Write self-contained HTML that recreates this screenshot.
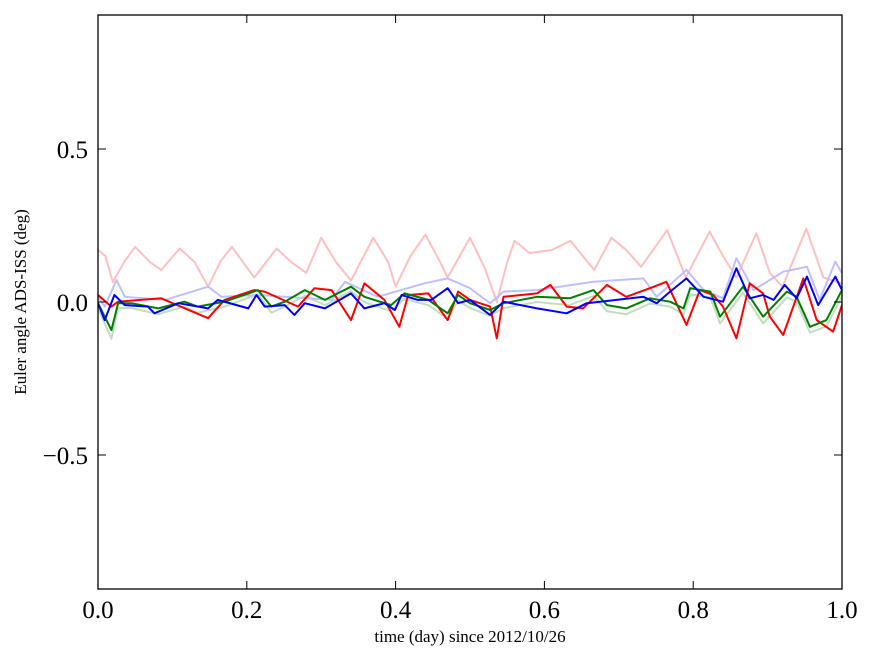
<!DOCTYPE html>
<html><head><meta charset="utf-8"><style>
html,body{margin:0;padding:0;background:#fff;}
svg{display:block;font-family:"Liberation Serif",serif;}
</style></head><body>
<svg id="chart" width="875" height="662" viewBox="0 0 875 662"></svg>
<script>
const xTicks=[0,0.2,0.4,0.6,0.8,1.0];
const xTickLabels=["0.0","0.2","0.4","0.6","0.8","1.0"];
const yTicks=[0.5,0,-0.5];
const yTickLabels=["0.5","0.0","\u22120.5"];
const pinkX=[0,0.01,0.02,0.035,0.05,0.07,0.085,0.11,0.13,0.148,0.165,0.18,0.195,0.21,0.24,0.26,0.28,0.30,0.32,0.34,0.37,0.39,0.40,0.42,0.44,0.46,0.47,0.50,0.52,0.536,0.55,0.56,0.58,0.61,0.635,0.667,0.69,0.71,0.73,0.765,0.79,0.822,0.84,0.858,0.885,0.903,0.92,0.952,0.975,1.0];
const pinkY=[0.17,0.15,0.065,0.13,0.18,0.13,0.105,0.175,0.13,0.05,0.135,0.18,0.13,0.08,0.175,0.13,0.095,0.21,0.13,0.07,0.21,0.13,0.05,0.15,0.22,0.13,0.08,0.21,0.11,0.0,0.13,0.2,0.16,0.17,0.2,0.105,0.21,0.17,0.115,0.235,0.08,0.23,0.15,0.08,0.225,0.095,0.05,0.24,0.08,0.06];
const redX=[0,0.018,0.027,0.085,0.148,0.17,0.21,0.224,0.269,0.291,0.314,0.34,0.358,0.385,0.405,0.417,0.444,0.47,0.484,0.5,0.527,0.536,0.545,0.59,0.608,0.63,0.652,0.684,0.71,0.742,0.764,0.791,0.809,0.827,0.84,0.858,0.876,0.894,0.903,0.921,0.948,0.966,0.988,1.0];
const redY=[0.023,-0.015,0.001,0.012,-0.053,0.007,0.039,0.034,-0.015,0.045,0.039,-0.059,0.061,0.007,-0.081,0.023,0.028,-0.059,0.034,0.007,-0.015,-0.119,0.017,0.028,0.056,-0.015,-0.021,0.056,0.017,0.045,0.066,-0.075,0.039,0.023,-0.015,-0.119,0.061,0.028,-0.048,-0.108,0.077,-0.059,-0.097,-0.01];
const greenX=[0,0.018,0.027,0.045,0.081,0.116,0.134,0.17,0.215,0.233,0.251,0.278,0.305,0.34,0.358,0.394,0.412,0.444,0.47,0.484,0.5,0.527,0.545,0.59,0.634,0.666,0.684,0.71,0.742,0.769,0.787,0.796,0.823,0.836,0.867,0.894,0.926,0.939,0.957,0.979,1.0];
const greenY=[-0.004,-0.092,-0.004,-0.004,-0.021,0.001,-0.015,0.001,0.039,-0.015,0.001,0.039,0.007,0.05,0.017,-0.01,0.028,0.007,-0.037,0.023,-0.004,-0.026,-0.004,0.017,0.012,0.039,-0.01,-0.021,0.012,0.001,-0.021,0.045,0.034,-0.048,0.05,-0.048,0.034,0.017,-0.081,-0.059,0.039];
const lgreenY=[-0.02,-0.12,-0.02,-0.02,-0.04,-0.015,-0.035,-0.015,0.025,-0.035,-0.015,0.02,-0.01,0.035,0.0,-0.03,0.01,-0.01,-0.055,0.005,-0.02,-0.045,-0.02,0.0,-0.01,0.02,-0.03,-0.04,-0.005,-0.015,-0.04,0.025,0.015,-0.07,0.03,-0.07,0.015,0.0,-0.1,-0.08,0.02];
const blueX=[0,0.009,0.022,0.036,0.067,0.076,0.108,0.148,0.161,0.202,0.213,0.224,0.251,0.264,0.278,0.305,0.34,0.358,0.385,0.399,0.408,0.43,0.448,0.47,0.484,0.5,0.527,0.545,0.59,0.63,0.657,0.697,0.733,0.751,0.769,0.791,0.814,0.84,0.858,0.876,0.894,0.908,0.923,0.939,0.953,0.968,0.991,1.0];
const blueY=[-0.004,-0.059,0.023,-0.01,-0.015,-0.037,-0.004,-0.021,0.007,-0.021,0.023,-0.015,-0.01,-0.042,-0.004,-0.021,0.028,-0.021,-0.004,-0.026,0.023,0.007,0.007,0.045,-0.004,0.007,-0.042,0.001,-0.021,-0.037,-0.004,0.007,0.017,-0.004,0.034,0.077,0.017,0.001,0.11,0.012,0.023,0.007,0.056,0.012,0.083,-0.01,0.083,0.039];
const lblueX=[0,0.009,0.025,0.036,0.09,0.148,0.166,0.215,0.251,0.314,0.332,0.376,0.439,0.47,0.5,0.527,0.545,0.59,0.666,0.733,0.751,0.791,0.814,0.84,0.858,0.881,0.921,0.953,0.97,0.991,1.0];
const lblueY=[0.017,-0.015,0.072,0.017,0.007,0.05,0.017,0.023,0.017,0.007,0.066,0.017,0.061,0.077,0.045,-0.004,0.034,0.039,0.066,0.077,0.017,0.105,0.039,0.012,0.143,0.039,0.099,0.115,0.007,0.132,0.094];

const L=98,R=842,T=15,B=589,YMIN=-0.938,YMAX=0.938;
const sx=v=>L+(v-0)/(1-0)*(R-L);
const sy=v=>B-(v-YMIN)/(YMAX-YMIN)*(B-T);
const NS="http://www.w3.org/2000/svg";
const svg=document.getElementById('chart');
function mk(tag,attrs,parent){const e=document.createElementNS(NS,tag);for(const k in attrs)e.setAttribute(k,attrs[k]);(parent||svg).appendChild(e);return e;}

const clip=mk('clipPath',{id:'pc'});mk('rect',{x:L,y:T,width:R-L,height:B-T},clip);
const plot=mk('g',{'clip-path':'url(#pc)'});


function line(xs,ys,color,name){
  const d=xs.map((x,i)=>(i?'L':'M')+sx(x).toFixed(1)+' '+sy(ys[i]).toFixed(1)).join(' ');
  const p=mk('path',{d:d,fill:'none',stroke:color,'stroke-width':2,'stroke-linejoin':'round'},plot);
  
  
}
line(pinkX,pinkY,'#ffbfbf','series-light-red');
line(greenX,lgreenY,'#bfdfbf','series-light-green');
line(lblueX,lblueY,'#bfbfff','series-light-blue');
line(redX,redY,'#ff0000','series-red');
line(greenX,greenY,'#008000','series-green');
line(blueX,blueY,'#0000ff','series-blue');

const frame=mk('rect',{x:L,y:T,width:R-L,height:B-T,fill:'none',stroke:'#000','stroke-width':1.3});



xTicks.forEach((v,i)=>{
  const x=sx(v);
  mk('line',{x1:x,x2:x,y1:B,y2:B-8,stroke:'#000'});
  mk('line',{x1:x,x2:x,y1:T,y2:T+8,stroke:'#000'});
  const t=mk('text',{x:x,y:B+29,'text-anchor':'middle','font-size':25});
  t.textContent=xTickLabels[i];
  
  
});
yTicks.forEach((v,i)=>{
  const y=sy(v);
  mk('line',{x1:L,x2:L+8,y1:y,y2:y,stroke:'#000'});
  mk('line',{x1:R,x2:R-8,y1:y,y2:y,stroke:'#000'});
  const t=mk('text',{x:L-10,y:y+9,'text-anchor':'end','font-size':25});
  t.textContent=yTickLabels[i];
  
  
});
const xl=mk('text',{x:470,y:642,'text-anchor':'middle','font-size':17});
xl.textContent='time (day) since 2012/10/26';


const yl=mk('text',{x:0,y:0,'text-anchor':'middle','font-size':17,transform:'translate(26,302) rotate(-90)'});
yl.textContent='Euler angle ADS-ISS (deg)';


</script>
</body></html>
